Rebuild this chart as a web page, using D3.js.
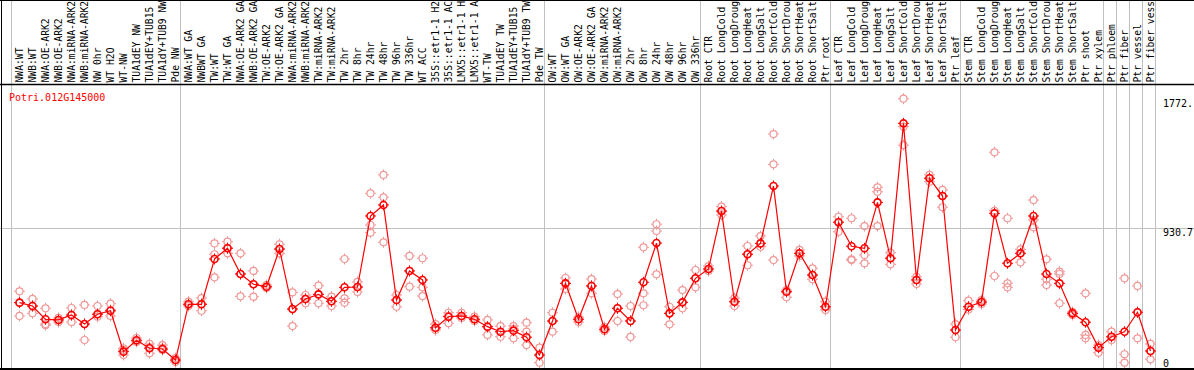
<!DOCTYPE html>
<html>
<head>
<meta charset="utf-8">
<script src="https://cdn.jsdelivr.net/npm/d3@7"></script>
<style>
  body { margin: 0; background: #fff; }
  svg { display: block; }
  text { font-family: "DejaVu Sans Mono", monospace; font-size: 10px; }
  .col-label { font-size: 9.7px; }
</style>
</head>
<body>
<svg width="1194" height="370"></svg>
<script>
const gene = "Potri.012G145000";

const samples = [
  "NWA:WT", "NWB:WT", "NWA:OE-ARK2", "NWB:OE-ARK2", "NWA:miRNA-ARK2", "NWB:miRNA-ARK2",
  "NW 0hr", "WT H2O", "WT-NW", "TUA1dEY NW", "TUA1dEY+TUB15 NW", "TUA1dY+TUB9 NW", "Pde NW",
  "NWA:WT GA", "NWBWT GA", "TW:WT", "TW:WT GA", "NWA:OE-ARK2 GA", "NWB:OE-ARK2 GA", "TW:OE-ARK2",
  "TW:OE-ARK2 GA", "NWA:miRNA-ARK2 GA", "NWB:miRNA-ARK2 GA", "TW:miRNA-ARK2", "TW:miRNA-ARK2 GA",
  "TW 2hr", "TW 8hr", "TW 24hr", "TW 48hr", "TW 96hr", "TW 336hr", "WT ACC",
  "35S::etr1-1 H2O", "35S::etr1-1 ACC", "LMX5::etr1-1 H2O", "LMX5::etr1-1 ACC",
  "WT-TW", "TUA1dEY TW", "TUA1dEY+TUB15 TW", "TUA1dY+TUB9 TW", "Pde TW",
  "OW:WT", "OW:WT GA", "OW:OE-ARK2", "OW:OE-ARK2 GA", "OW:miRNA-ARK2", "OW:miRNA-ARK2 GA",
  "OW 2hr", "OW 8hr", "OW 24hr", "OW 48hr", "OW 96hr", "OW 336hr",
  "Root CTR", "Root LongCold", "Root LongDrought", "Root LongHeat", "Root LongSalt",
  "Root ShortCold", "Root ShortDrought", "Root ShortHeat", "Root ShortSalt", "Ptr root",
  "Leaf CTR", "Leaf LongCold", "Leaf LongDrought", "Leaf LongHeat", "Leaf LongSalt",
  "Leaf ShortCold", "Leaf ShortDrought", "Leaf ShortHeat", "Leaf ShortSalt", "Ptr leaf",
  "Stem CTR", "Stem LongCold", "Stem LongDrought", "Stem LongHeat", "Stem LongSalt",
  "Stem ShortCold", "Stem ShortDrought", "Stem ShortHeat", "Stem ShortSalt", "Ptr shoot", "Ptr xylem",
  "Ptr phloem", "Ptr fiber", "Ptr vessel", "Ptr fiber vessel"
];

// index of the first sample of each group (last entry = end)
const groupStarts = [0, 13, 41, 53, 63, 73, 84, 85, 86, 87, 88];

const means = [
  440, 418, 331, 327, 359, 300, 364, 387, 120, 194, 142, 137, 65,
  429, 429, 725, 795, 627, 560, 544, 790, 398, 464, 494, 449, 540, 542, 1006, 1078, 457, 647, 588,
  276, 348, 353, 331, 283, 250, 257, 214, 98,
  320, 566, 331, 549, 266, 403, 320, 573, 829, 370, 442, 599,
  660, 1038, 446, 756, 827, 1202, 511, 762, 620, 413,
  965, 808, 795, 1095, 730, 1611, 588, 1252, 1136, 261,
  413, 444, 1023, 697, 762, 1006, 627, 566, 370, 312, 146,
  217, 250, 377, 124
];

const rep1 = [
  514, 464, 403, 340, 405, 425, 418, 433, 142, 209, 170, 163, 78,
  446, 470, 827, 838, 762, 647, 555, 821, 507, 490, 551, 479, 725, 575, 1154, 1274, 490, 745, 730,
  300, 374, 374, 348, 327, 287, 287, 309, 146,
  374, 601, 346, 594, 281, 496, 418, 801, 952, 413, 522, 653,
  679, 1067, 470, 810, 875, 1541, 522, 784, 664, 446,
  1001, 991, 940, 1193, 766, 1772, 609, 1274, 1176, 300,
  453, 457, 1422, 991, 788, 1110, 723, 642, 379, 501, 163,
  250, 599, 549, 170
];

const rep2 = [
  440, 418, 300, 327, 359, 300, 366, 392, 131, 189, 150, 144, 65,
  431, 431, 756, 797, 627, 560, 542, 790, 398, 464, 494, 449, 468, 542, 947, 1128, 457, 647, 540,
  274, 353, 353, 331, 281, 248, 268, 250, 98,
  320, 566, 333, 549, 266, 403, 320, 501, 908, 370, 442, 599,
  660, 1038, 446, 756, 827, 1343, 511, 762, 620, 413,
  965, 723, 751, 1164, 730, 1589, 588, 1252, 1136, 261,
  413, 444, 1040, 566, 762, 980, 592, 627, 370, 229, 146,
  217, 103, 377, 124
];

const rep3 = [
  353, 370, 293, 313, 313, 196, 348, 353, 98, 183, 109, 131, 52,
  418, 387, 605, 762, 481, 479, 536, 762, 287, 436, 436, 418, 440, 510, 897, 834, 413, 544, 483,
  261, 305, 340, 320, 229, 217, 207, 163, 48,
  250, 529, 313, 501, 255, 320, 216, 423, 625, 298, 403, 540,
  647, 1012, 418, 684, 805, 718, 475, 745, 592, 392,
  903, 718, 697, 940, 690, 1469, 562, 1230, 1063, 214,
  395, 431, 614, 540, 703, 932, 555, 436, 359, 207, 113,
  196, 48, 207, 70
];

const yMax = 1861.4;
const tickValues = [1772, 930.7, 0];
const tickLabels = ["1772.", "930.7", "0"];

const W = 1194, H = 370;
const headerBottom = 85, plotBottom = 370;
const colLeft = 11, colRight = 1155;

const svg = d3.select("svg");

const x = d3.scaleBand()
  .domain(d3.range(samples.length))
  .range([colLeft, colRight])
  .padding(0);

const y = d3.scaleLinear()
  .domain([0, yMax])
  .range([plotBottom, headerBottom]);

const cx = i => x(i) + 8.5;

// grid: mid gridline and group separators
svg.append("line")
  .attr("x1", 0).attr("x2", W)
  .attr("y1", Math.round(y(930.7)) + 0.5).attr("y2", Math.round(y(930.7)) + 0.5)
  .attr("stroke", "#c0c0c0");

svg.append("g")
  .selectAll("line")
  .data(groupStarts)
  .join("line")
  .attr("x1", d => (d < samples.length ? x(d) : colRight) + 0.5)
  .attr("x2", d => (d < samples.length ? x(d) : colRight) + 0.5)
  .attr("y1", 0).attr("y2", H)
  .attr("stroke", "#c0c0c0");

// frame
svg.append("line").attr("x1", 0).attr("x2", W).attr("y1", 0.5).attr("y2", 0.5).attr("stroke", "#000");
svg.append("line").attr("x1", 0).attr("x2", W).attr("y1", headerBottom - 0.5).attr("y2", headerBottom - 0.5).attr("stroke", "#000").attr("stroke-width", 1.5);
svg.append("line").attr("x1", 0).attr("x2", W).attr("y1", H - 1).attr("y2", H - 1).attr("stroke", "#000").attr("stroke-width", 2);
svg.append("line").attr("x1", 1.5).attr("x2", 1.5).attr("y1", 0).attr("y2", H).attr("stroke", "#000");

// column labels (truncated to 14 chars, rotated)
svg.append("g")
  .selectAll("text")
  .data(samples)
  .join("text")
  .attr("class", "col-label")
  .attr("transform", (d, i) => `translate(${cx(i) + 3.5},82.5) rotate(-90)`)
  .attr("fill", "#000")
  .text(d => d.slice(0, 14));

// title
svg.append("text")
  .attr("x", 9).attr("y", 101)
  .attr("fill", "#ff0000")
  .text(gene);

// value labels on the right
svg.append("g")
  .selectAll("text")
  .data(tickValues)
  .join("text")
  .attr("x", 1163)
  .attr("y", (d, i) => i === 2 ? y(d) - 3 : y(d) + 8.5)
  .attr("fill", "#000")
  .text((d, i) => tickLabels[i]);

// marker: ring with four small ticks
const tickPath = "M0,-5.5V-3.5M0,3.5V5.5M-5.5,0H-3.5M3.5,0H5.5";

function drawMarkers(g, pts, color, width) {
  const m = g.selectAll("g")
    .data(pts)
    .join("g")
    .attr("transform", d => `translate(${d.x},${d.y})`);
  m.append("circle")
    .attr("r", 3.5)
    .attr("fill", "none")
    .attr("stroke", color)
    .attr("stroke-width", width);
  m.append("path")
    .attr("d", tickPath)
    .attr("stroke", color)
    .attr("stroke-width", 1);
}

// replicates
const repPts = [];
[rep1, rep2, rep3].forEach(arr => {
  arr.forEach((v, i) => repPts.push({ x: cx(i), y: y(v) }));
});
drawMarkers(svg.append("g"), repPts, "#f09898", 1.2);

// mean line
const line = d3.line()
  .x((d, i) => cx(i))
  .y(d => y(d));

svg.append("path")
  .datum(means)
  .attr("fill", "none")
  .attr("stroke", "#ff0000")
  .attr("stroke-width", 1.2)
  .attr("d", line);

// means
drawMarkers(svg.append("g"), means.map((v, i) => ({ x: cx(i), y: y(v) })), "#ff0000", 1.6);
</script>
</body>
</html>
